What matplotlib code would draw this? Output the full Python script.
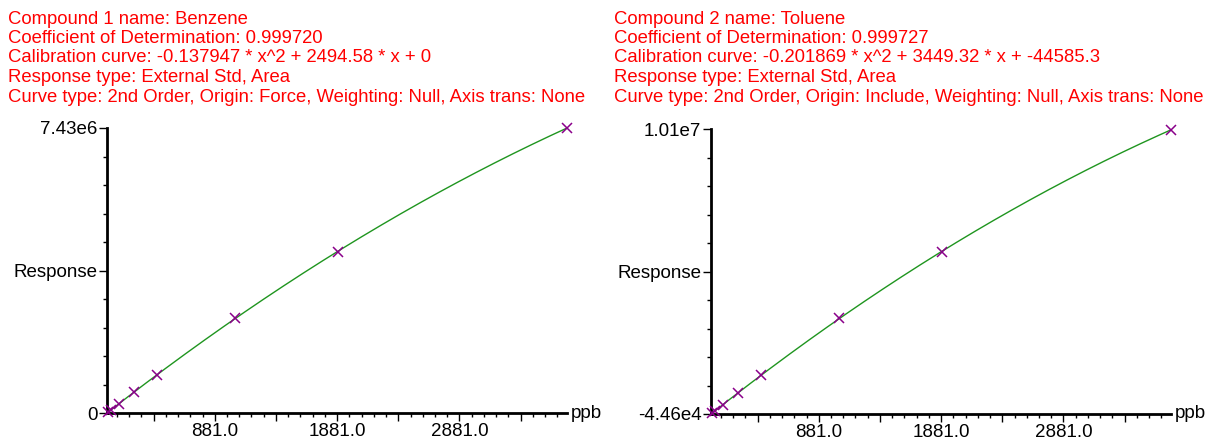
import numpy as np
import matplotlib
matplotlib.use("Agg")
import matplotlib.pyplot as plt

# Calibration standards (ppb) and measured peak-area responses
conc = [8, 30, 95, 220, 410, 1050, 1885, 3760]
benzene_resp = [2.0e4, 7.5e4, 2.36e5, 5.42e5, 1.0e6, 2.467e6, 4.21e6, 7.43e6]
toluene_resp = [-1.7e4, 5.9e4, 2.81e5, 7.04e5, 1.34e6, 3.355e6, 5.73e6, 1.007e7]

# Quadratic fit coefficients: a*x^2 + b*x + c
benzene_coef = (-0.137947, 2494.58, 0.0)
toluene_coef = (-0.201869, 3449.32, -44585.3)

benzene_header = [
    "Compound 1 name: Benzene",
    "Coefficient of Determination: 0.999720",
    "Calibration curve: -0.137947 * x^2 + 2494.58 * x + 0",
    "Response type: External Std, Area",
    "Curve type: 2nd Order, Origin: Force, Weighting: Null, Axis trans: None",
]
toluene_header = [
    "Compound 2 name: Toluene",
    "Coefficient of Determination: 0.999727",
    "Calibration curve: -0.201869 * x^2 + 3449.32 * x + -44585.3",
    "Response type: External Std, Area",
    "Curve type: 2nd Order, Origin: Include, Weighting: Null, Axis trans: None",
]

x_max = 3760
benzene_ylim = (0.0, 7.43e6)
toluene_ylim = (-4.46e4, 1.01e7)
benzene_ylabels = ["0", "Response", "7.43e6"]
toluene_ylabels = ["-4.46e4", "Response", "1.01e7"]
xtick_values = [881.0, 1881.0, 2881.0]
x_unit = "ppb"

W, H = 1211, 441
plt.rcParams["font.family"] = ["Liberation Sans", "DejaVu Sans"]
fig = plt.figure(figsize=(W / 100, H / 100), dpi=100)

HEAD_FS = 13.3
TICK_FS = 13.5
RED = "#ff0000"
GREEN = "#1f951f"
PURPLE = "#8a008a"


def px_rect(left, right, top, bottom):
    return [left / W, 1 - bottom / H, (right - left) / W, (bottom - top) / H]


def draw_header(x0, lines):
    baselines = [23.5, 43, 62.5, 82, 101.5]
    for yb, line in zip(baselines, lines):
        fig.text(x0 / W, 1 - yb / H, line, color=RED, fontsize=HEAD_FS,
                 ha="left", va="baseline")


def draw_panel(rect, coef, resp, ylim, ylabels):
    ax = fig.add_axes(rect)
    a, b, c = coef
    xs = np.linspace(0, x_max, 400)
    ax.plot(xs, a * xs ** 2 + b * xs + c, color=GREEN, lw=1.0, clip_on=False)
    ax.plot(conc, resp, linestyle="none", marker="x", color=PURPLE,
            markersize=7, mew=1.1, clip_on=False, zorder=5)

    ax.set_xlim(0, x_max)
    ax.set_ylim(*ylim)
    for side in ("top", "right"):
        ax.spines[side].set_visible(False)
    for side in ("left", "bottom"):
        ax.spines[side].set_linewidth(2.0)
        ax.spines[side].set_color("black")

    y0, y1 = ylim
    ax.set_yticks([y0, (y0 + y1) / 2, y1], ylabels)
    ax.set_yticks(np.linspace(y0, y1, 11), minor=True)

    # x ticks: labelled every 1000, longer marks between, short marks every 100
    labelled = list(xtick_values)
    mids = [v - 500 for v in xtick_values] + [xtick_values[-1] + 500]
    major = sorted(labelled + mids)
    major_labels = [f"{v:.1f}" if v in labelled else "" for v in major]
    ax.set_xticks(major, major_labels)
    start = xtick_values[0] % 100
    ax.set_xticks(np.arange(start, x_max, 100), minor=True)

    ax.tick_params(axis="both", which="major", direction="out", length=5.5,
                   width=1.0, labelsize=TICK_FS, colors="black")
    ax.tick_params(axis="both", which="minor", direction="out", length=3.0,
                   width=1.0)
    ax.tick_params(axis="y", which="major", pad=1.5)
    ax.tick_params(axis="x", which="major", pad=2.0)

    ax.annotate(x_unit, xy=(1, 0), xycoords="axes fraction",
                xytext=(3, 0), textcoords="offset points",
                ha="left", va="center", fontsize=TICK_FS, color="black",
                annotation_clip=False)
    return ax


draw_header(8, benzene_header)
draw_header(614, toluene_header)

draw_panel(px_rect(107, 567, 128, 413), benzene_coef, benzene_resp,
           benzene_ylim, benzene_ylabels)
draw_panel(px_rect(711, 1171, 129, 414), toluene_coef, toluene_resp,
           toluene_ylim, toluene_ylabels)

fig.savefig("out.png", dpi=100, facecolor="white")
